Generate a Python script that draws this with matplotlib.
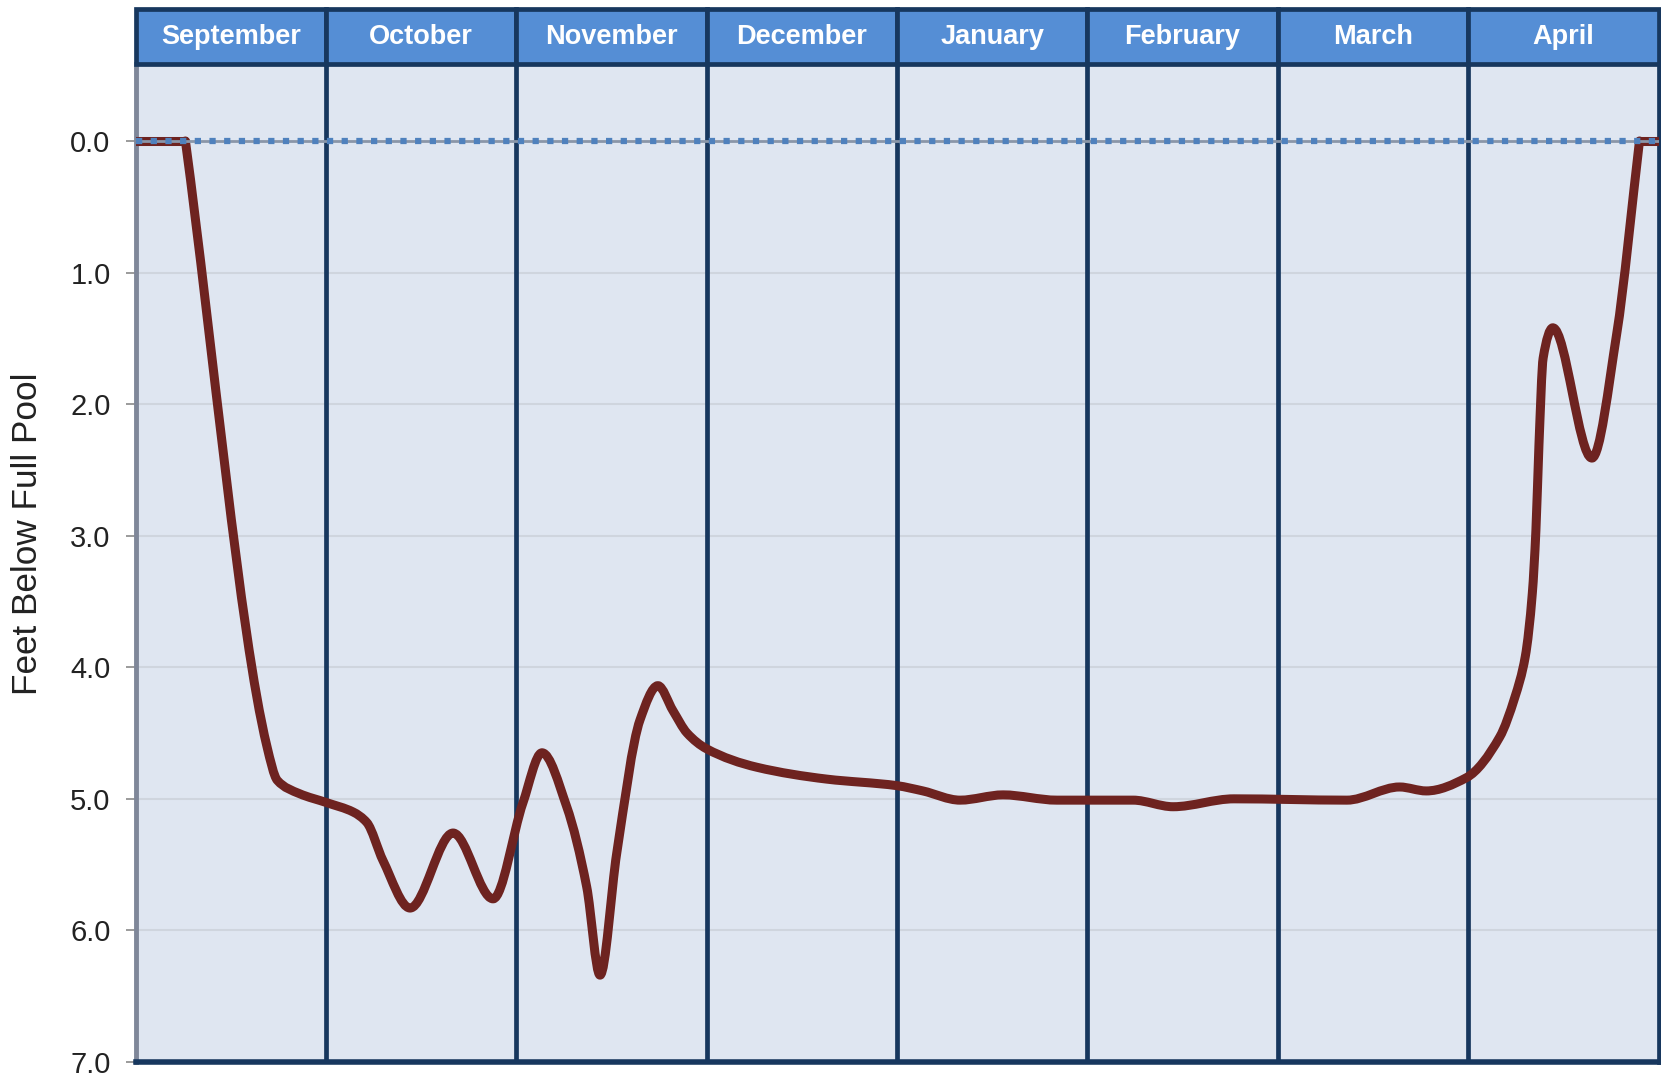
import numpy as np
import matplotlib
matplotlib.use("Agg")
import matplotlib.pyplot as plt
from matplotlib.path import Path
from matplotlib.patches import PathPatch, Rectangle

plt.rcParams["font.family"] = ["Liberation Sans", "DejaVu Sans"]

months = ["September", "October", "November", "December",
          "January", "February", "March", "April"]

# position along the season in months (0 = start of September)
season_pos = [0.0, 0.262, 0.690, 0.745, 0.86, 1.006, 1.143, 1.215, 1.30, 1.442,
              1.668, 1.878, 2.035, 2.135, 2.265, 2.37, 2.44, 2.528, 2.65, 2.744,
              2.823, 2.897, 3.0, 3.264, 3.63, 4.0, 4.136, 4.331, 4.557,
              4.84, 5.24, 5.45, 5.77, 6.363, 6.64, 6.78, 6.99, 7.166, 7.245,
              7.30, 7.337, 7.356, 7.372, 7.394, 7.445, 7.65, 7.78, 7.90, 8.0]
# lake level, feet below full pool
feet_below = [0.0, 0.0, 4.60, 4.86, 4.96, 5.03, 5.10, 5.18, 5.47, 5.83,
              5.26, 5.76, 5.03, 4.65, 5.06, 5.67, 6.34, 5.41, 4.40, 4.14,
              4.33, 4.50, 4.62, 4.76, 4.85, 4.90, 4.94, 5.01, 4.97,
              5.01, 5.01, 5.06, 5.00, 5.01, 4.91, 4.94, 4.84, 4.53, 4.23,
              3.92, 3.44, 2.96, 2.31, 1.65, 1.42, 2.41, 1.47, 0.0, 0.0]

yticks = [0, 1, 2, 3, 4, 5, 6, 7]

navy = "#17375e"
header_blue = "#558ed5"
plot_bg = "#dfe6f1"
curve_red = "#6e2320"


def smooth_path(xs, ys):
    # monotone cubic (Fritsch-Carlson) segments written as bezier curves
    xs = np.asarray(xs, float)
    ys = np.asarray(ys, float)
    h = np.diff(xs)
    d = np.diff(ys) / h
    m = np.empty_like(ys)
    m[0], m[-1] = d[0], d[-1]
    for k in range(1, len(xs) - 1):
        if d[k - 1] * d[k] <= 0:
            m[k] = 0.0
        else:
            w1 = 2 * h[k] + h[k - 1]
            w2 = h[k] + 2 * h[k - 1]
            m[k] = (w1 + w2) / (w1 / d[k - 1] + w2 / d[k])
    verts = [(xs[0], ys[0])]
    codes = [Path.MOVETO]
    for k in range(len(xs) - 1):
        verts += [(xs[k] + h[k] / 3, ys[k] + m[k] * h[k] / 3),
                  (xs[k + 1] - h[k] / 3, ys[k + 1] - m[k + 1] * h[k] / 3),
                  (xs[k + 1], ys[k + 1])]
        codes += [Path.CURVE4] * 3
    return Path(verts, codes)


fig = plt.figure(figsize=(16.61, 10.74), dpi=100)
ax = fig.add_axes([0.0816, 0.0112, 0.9169, 0.9292])
hx = fig.add_axes([0.0816, 0.9404, 0.9169, 0.0512])

ax.set_facecolor(plot_bg)
ax.set_xlim(0, 8)
ax.set_ylim(7, -0.585)
ax.set_xticks([])
ax.set_yticks(yticks)
ax.set_yticklabels([f"{v:.1f}" for v in yticks], fontsize=21, color="#222222")
ax.tick_params(axis="y", length=7, width=1.2, color="#8a8a8a", pad=11)
for v in yticks[1:]:
    ax.axhline(v, color="#cfd5de", lw=1.5, zorder=1)
for m in range(1, 8):
    ax.axvline(m, color=navy, lw=3.4, zorder=2)

ax.spines["left"].set_color("#7f8799")
ax.spines["left"].set_linewidth(3.5)
ax.spines["bottom"].set_color(navy)
ax.spines["bottom"].set_linewidth(4)
ax.spines["right"].set_color(navy)
ax.spines["right"].set_linewidth(3.4)
ax.spines["top"].set_visible(False)

# level curve: flat ends drawn straight, the rest smoothed
xs = np.array(season_pos)
ys = np.array(feet_below)
ax.plot(xs[:2], ys[:2], color=curve_red, lw=6.5, solid_capstyle="round", zorder=3)
ax.plot(xs[-2:], ys[-2:], color=curve_red, lw=6.5, solid_capstyle="round", zorder=3)
ax.add_patch(PathPatch(smooth_path(xs[1:-1], ys[1:-1]), fill=False,
                       edgecolor=curve_red, lw=6.5, capstyle="round",
                       joinstyle="round", zorder=3))

# full pool reference line
ax.axhline(0, color="#8a96a8", lw=2.0, zorder=4)
ax.axhline(0, color="#4f81bd", lw=4.5, linestyle=(0, (1, 1.35)), zorder=5)

ax.set_ylabel("Feet Below Full Pool", fontsize=25.3, color="#222222")
ax.yaxis.set_label_coords(-0.060, 0.529)

# month header bar
hx.set_xlim(0, 8)
hx.set_ylim(0, 1)
hx.axis("off")
for i, name in enumerate(months):
    hx.add_patch(Rectangle((i, 0), 1, 1, facecolor=header_blue, edgecolor=navy,
                           lw=3.4, clip_on=False))
    hx.text(i + 0.5, 0.5, name, ha="center", va="center", color="white",
            fontsize=19.5, fontweight="bold")

fig.savefig("out.png", dpi=100)
